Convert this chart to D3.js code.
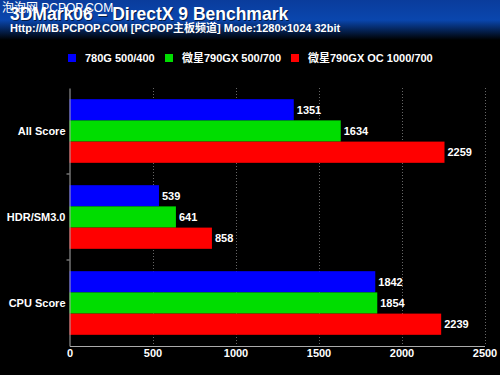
<!DOCTYPE html>
<html><head><meta charset="utf-8">
<script src="https://cdn.jsdelivr.net/npm/d3@7/dist/d3.min.js"></script>
<style>html,body{margin:0;padding:0;background:#000;}svg{display:block;}</style>
</head><body>
<script>
const categories = ["All Score", "HDR/SM3.0", "CPU Score"];
const seriesNames = ["780G 500/400", "微星790GX 500/700", "微星790GX OC 1000/700"];
const seriesColors = ["#0000ff", "#00dd00", "#ff0000"];
const values780G = [1351, 539, 1842];
const values790GX = [1634, 641, 1854];
const values790GXOC = [2259, 858, 2239];
const xTicks = [0, 500, 1000, 1500, 2000, 2500];
const title = "3DMark06 – DirectX 9 Benchmark";
const subtitle = "Http://MB.PCPOP.COM [PCPOP主板频道] Mode:1280×1024 32bit";
const watermark = "泡泡网 PCPOP.COM";

(function () {
const W = 500, H = 375;
const svg = d3.select("body").append("svg").attr("width", W).attr("height", H);
const font = "Arial, 'Liberation Sans', 'Noto Sans CJK SC', sans-serif";

const defs = svg.append("defs");
const grad = defs.append("linearGradient").attr("id", "hdr").attr("x1", 0).attr("y1", 0).attr("x2", 0).attr("y2", 1);
grad.append("stop").attr("offset", "0%").attr("stop-color", "#0a3c9c");
grad.append("stop").attr("offset", "50%").attr("stop-color", "#0a46ae");
grad.append("stop").attr("offset", "100%").attr("stop-color", "#000000");

svg.append("rect").attr("width", W).attr("height", H).attr("fill", "#000");
svg.append("rect").attr("width", W).attr("height", 40).attr("fill", "url(#hdr)");

// title
svg.append("text").attr("x", 11).attr("y", 21).attr("fill", "#000").attr("opacity", 0.6)
  .attr("font-family", font).attr("font-weight", "bold").attr("font-size", 17.5).text(title);
svg.append("text").attr("x", 10).attr("y", 20).attr("fill", "#fff")
  .attr("font-family", font).attr("font-weight", "bold").attr("font-size", 17.5).text(title);
svg.append("text").attr("x", 10).attr("y", 32).attr("fill", "#fff")
  .attr("font-family", font).attr("font-weight", "bold").attr("font-size", 11).text(subtitle);
svg.append("text").attr("x", 2).attr("y", 12).attr("fill", "#fff")
  .attr("font-family", font).attr("font-size", 12).text(watermark);

// legend
const legendX = [68, 165, 291];
const lg = svg.append("g");
seriesNames.forEach((n, i) => {
  lg.append("rect").attr("x", legendX[i]).attr("y", 54).attr("width", 8).attr("height", 8).attr("fill", seriesColors[i]);
  lg.append("text").attr("x", legendX[i] + 17).attr("y", 62).attr("fill", "#fff")
    .attr("font-family", font).attr("font-weight", "bold").attr("font-size", 11).text(n);
});

// scales
const pLeft = 69.5, pRight = 484.5, pTop = 88, pBottom = 346;
const x = d3.scaleLinear().domain([0, 2500]).range([pLeft, pRight]);
const y = d3.scaleBand().domain(categories).range([pTop, pBottom]).paddingInner(0.26).paddingOuter(0.13);
const sub = d3.scaleBand().domain(seriesNames).range([0, y.bandwidth()]);

// grid
svg.append("g").selectAll("line").data(xTicks.slice(1)).join("line")
  .attr("x1", d => Math.round(x(d)) + 0.5).attr("x2", d => Math.round(x(d)) + 0.5)
  .attr("y1", pTop).attr("y2", pBottom)
  .attr("stroke", "#666").attr("stroke-dasharray", "1,2");

const series = [values780G, values790GX, values790GXOC];
const bars = svg.append("g");
categories.forEach((c, ci) => {
  series.forEach((vals, si) => {
    const v = vals[ci];
    bars.append("rect").attr("x", x(0)).attr("y", y(c) + sub(seriesNames[si]))
      .attr("width", x(v) - x(0)).attr("height", sub.bandwidth()).attr("fill", seriesColors[si]);
    bars.append("text").attr("x", x(v) + 3).attr("y", y(c) + sub(seriesNames[si]) + sub.bandwidth() / 2 + 4)
      .attr("fill", "#fff").attr("font-family", font).attr("font-weight", "bold").attr("font-size", 11).text(v);
  });
});

// axes
const xAxis = svg.append("g").attr("transform", `translate(0,${pBottom})`)
  .call(d3.axisBottom(x).tickValues(xTicks).tickFormat(d3.format("d")).tickSize(0).tickPadding(3));
xAxis.select(".domain").attr("stroke", "#aaa");
xAxis.selectAll("text").attr("fill", "#fff").attr("font-family", font).attr("font-weight", "bold").attr("font-size", 11);

const yAxis = svg.append("g").attr("transform", `translate(${pLeft},0)`)
  .call(d3.axisLeft(y).tickSize(0).tickPadding(4));
yAxis.select(".domain").attr("stroke", "#aaa");
yAxis.selectAll("text").attr("fill", "#fff").attr("font-family", font).attr("font-weight", "bold").attr("font-size", 11);
const step = (pBottom - pTop) / categories.length;
svg.append("g").selectAll("line").data([1, 2]).join("line")
  .attr("x1", pLeft - 3).attr("x2", pLeft).attr("y1", d => pTop + d * step).attr("y2", d => pTop + d * step)
  .attr("stroke", "#aaa");
})();
</script>
</body></html>
